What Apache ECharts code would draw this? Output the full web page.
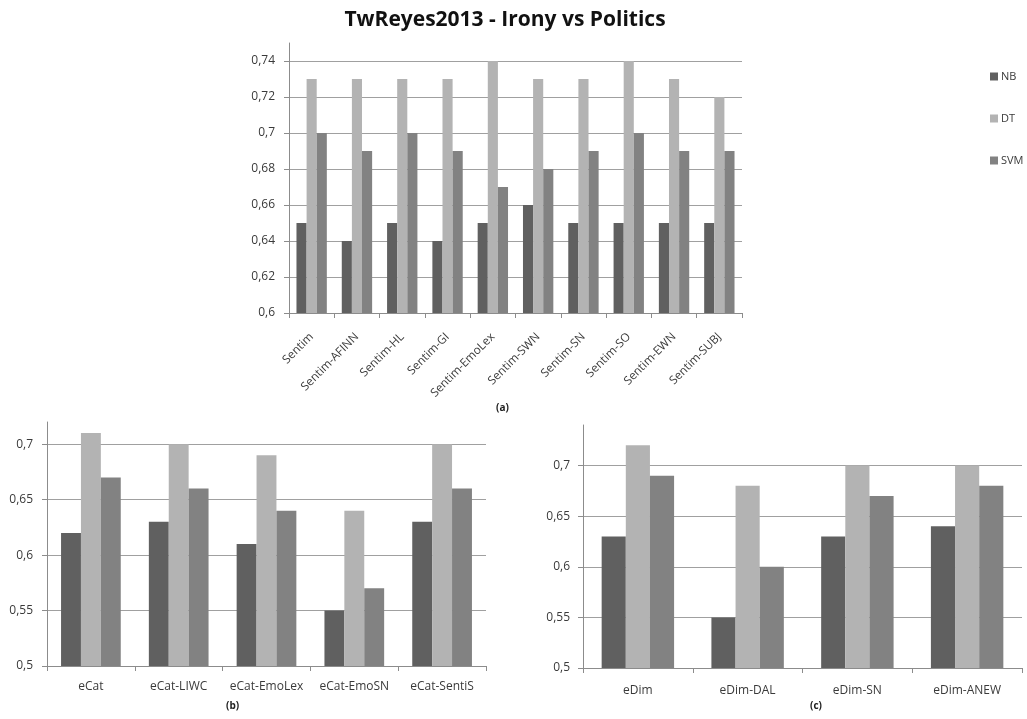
<!DOCTYPE html>
<html>
<head>
<meta charset="utf-8">
<script src="https://cdn.jsdelivr.net/npm/echarts@6/dist/echarts.min.js"></script>
<style>
  html, body { margin: 0; padding: 0; background: #ffffff; }
  #chart { width: 1027px; height: 719px; }
</style>
</head>
<body>
<div id="chart"></div>
<script>
// Panel (a): sentiment lexicons
const sentimCategories = ['Sentim', 'Sentim-AFINN', 'Sentim-HL', 'Sentim-GI', 'Sentim-EmoLex',
  'Sentim-SWN', 'Sentim-SN', 'Sentim-SO', 'Sentim-EWN', 'Sentim-SUBJ'];
const sentimNB  = [0.65, 0.64, 0.65, 0.64, 0.65, 0.66, 0.65, 0.65, 0.65, 0.65];
const sentimDT  = [0.73, 0.73, 0.73, 0.73, 0.74, 0.73, 0.73, 0.74, 0.73, 0.72];
const sentimSVM = [0.70, 0.69, 0.70, 0.69, 0.67, 0.68, 0.69, 0.70, 0.69, 0.69];

// Panel (b): emotion categories
const ecatCategories = ['eCat', 'eCat-LIWC', 'eCat-EmoLex', 'eCat-EmoSN', 'eCat-SentiS'];
const ecatNB  = [0.62, 0.63, 0.61, 0.55, 0.63];
const ecatDT  = [0.71, 0.70, 0.69, 0.64, 0.70];
const ecatSVM = [0.67, 0.66, 0.64, 0.57, 0.66];

// Panel (c): emotion dimensions
const edimCategories = ['eDim', 'eDim-DAL', 'eDim-SN', 'eDim-ANEW'];
const edimNB  = [0.63, 0.55, 0.63, 0.64];
const edimDT  = [0.72, 0.68, 0.70, 0.70];
const edimSVM = [0.69, 0.60, 0.67, 0.68];

const classifiers = ['NB', 'DT', 'SVM'];
const colors = { NB: '#606060', DT: '#b3b3b3', SVM: '#828282' };

const font = 'Open Sans';
const textColor = '#3a3a3a';

function fmt(v) { return String(Number(v.toFixed(2))).replace('.', ','); }

function xAxis(gridIndex, data, opts) {
  return Object.assign({
    type: 'category', gridIndex, data,
    axisLine: { lineStyle: { color: '#8c8c8c', width: 1 } },
    axisTick: { show: true, length: 5, lineStyle: { color: '#8c8c8c' } },
    axisLabel: { color: textColor, fontFamily: font, fontSize: 12, interval: 0 }
  }, opts || {});
}

function yAxis(gridIndex, min, max, interval, fontSize, margin) {
  return {
    type: 'value', gridIndex, min, max, interval,
    axisLine: { show: true, lineStyle: { color: '#8c8c8c', width: 1 } },
    axisTick: { show: true, length: 5, lineStyle: { color: '#8c8c8c' } },
    splitLine: { show: true, showMaxLine: false, lineStyle: { color: '#a0a0a0', width: 1 } },
    axisLabel: { color: textColor, fontFamily: font, fontSize, margin,
      showMaxLabel: false, formatter: fmt }
  };
}

function bars(axisIndex, values, gap) {
  return classifiers.map((name, i) => ({
    name, type: 'bar', xAxisIndex: axisIndex, yAxisIndex: axisIndex,
    data: values[i], barGap: '0%', barCategoryGap: gap,
    itemStyle: { color: colors[name] },
    emphasis: { disabled: true }
  }));
}

const chart = echarts.init(document.getElementById('chart'), null, { renderer: 'canvas' });

chart.setOption({
  backgroundColor: '#ffffff',
  animation: false,
  title: {
    text: 'TwReyes2013 - Irony vs Politics',
    left: 500, top: 5, textAlign: 'center',
    textStyle: { fontFamily: font, fontWeight: 'bold', fontSize: 21, color: '#111111' }
  },
  legend: {
    orient: 'vertical', left: 985, top: 66,
    itemWidth: 8, itemHeight: 8, itemGap: 31,
    icon: 'rect',
    data: classifiers,
    textStyle: { fontFamily: font, fontSize: 11, color: textColor, padding: [0, 0, 0, -2] }
  },
  grid: [
    { left: 289, top: 43, width: 453, height: 270 },
    { left: 47, top: 422, width: 439, height: 244 },
    { left: 583, top: 425, width: 439, height: 243 }
  ],
  xAxis: [
    xAxis(0, sentimCategories, { axisLabel: { color: textColor, fontFamily: font, fontSize: 11.7,
      interval: 0, rotate: 45, margin: 22 } }),
    xAxis(1, ecatCategories, { axisLabel: { color: textColor, fontFamily: font, fontSize: 12,
      interval: 0, margin: 15 } }),
    xAxis(2, edimCategories, { axisLabel: { color: textColor, fontFamily: font, fontSize: 12,
      interval: 0, margin: 17 } })
  ],
  yAxis: [
    yAxis(0, 0.6, 0.75, 0.02, 12, 14),
    yAxis(1, 0.5, 0.72, 0.05, 12, 14),
    yAxis(2, 0.5, 0.74, 0.05, 12, 13)
  ],
  graphic: [
    { type: 'text', left: 496, top: 403, style: { text: '(a)', fontFamily: font, fontSize: 10, fontWeight: 'bold', fill: '#222' } },
    { type: 'text', left: 226, top: 701, style: { text: '(b)', fontFamily: font, fontSize: 10, fontWeight: 'bold', fill: '#222' } },
    { type: 'text', left: 810, top: 701, style: { text: '(c)', fontFamily: font, fontSize: 10, fontWeight: 'bold', fill: '#222' } }
  ],
  series: [].concat(
    bars(0, [sentimNB, sentimDT, sentimSVM], '33%'),
    bars(1, [ecatNB, ecatDT, ecatSVM], '32%'),
    bars(2, [edimNB, edimDT, edimSVM], '34%')
  )
});
</script>
</body>
</html>
